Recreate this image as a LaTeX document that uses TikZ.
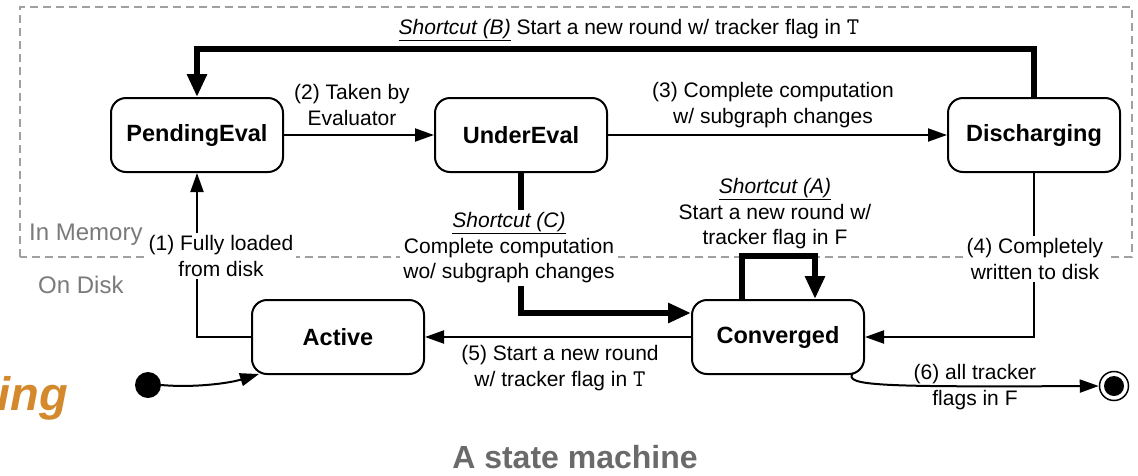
\documentclass[tikz,border=0pt]{standalone}
\usepackage{fontspec}
\setmainfont{Liberation Sans}
\usetikzlibrary{arrows.meta,calc}
\definecolor{dashgray}{HTML}{A0A0A0}
\definecolor{txtgray}{HTML}{7A7A7A}
\definecolor{titlegray}{HTML}{6A6A6A}
\definecolor{ingorange}{HTML}{D3892C}
\newcommand{\flagT}{{\fontsize{24}{25.5}\selectfont\ttfamily T}}
\begin{document}
\begin{tikzpicture}[x=1pt,y=-1pt,
  statebox/.style={draw, line width=2pt, rounded corners=15pt, minimum width=172pt, minimum height=74pt, font=\fontsize{23.5}{28}\selectfont\bfseries, inner sep=0pt},
  lbl/.style={align=center, font=\fontsize{21}{25.5}\selectfont, inner sep=3pt},
  wlbl/.style={lbl, fill=white},
  tarrow/.style={line width=2pt, -{Triangle[length=19pt,width=13pt]}},
  bigarrow/.style={line width=6.5pt, -{Triangle[length=23pt,width=19pt]}},
  graylbl/.style={font=\fontsize{24}{28}\selectfont, text=txtgray, inner sep=0pt}
]
\useasboundingbox (0,0) rectangle (1138,475);

% memory / disk region
\draw[dashgray, line width=1.3pt, dash pattern=on 8pt off 5pt] (20,257) -- (20,7) -- (1132,7) -- (1132,257) -- cycle;
\node[graylbl, anchor=base west] (mem) at (29,240) {In Memory};
\node[graylbl, anchor=base west] (disk) at (38,293) {On Disk};

% states
\node[statebox] (pe) at (197,135) {PendingEval};
\node[statebox] (ue) at (521,135) {UnderEval};
\node[statebox] (dc) at (1034,135) {Discharging};
\node[statebox] (ac) at (338,337) {Active};
\node[statebox] (cv) at (778,337) {Converged};
\node[circle, fill, minimum size=26pt, inner sep=0pt] (init) at (148,385) {};
\node[circle, draw, line width=1.5pt, minimum size=29pt, inner sep=0pt] (fin) at (1114,386) {};
\node[circle, fill, minimum size=20pt, inner sep=0pt] (fininner) at (fin.center) {};

% helper coordinates
\coordinate (btop) at (0,49);
\path (cv.west) ++(0,-24) coordinate (cvin);
\path (cv.north) ++(-36,0) coordinate (aL);
\path (cv.north) ++(37,0) coordinate (aR);
\coordinate (c6s) at (853,373);
\path (ac.south west) ++(8,-1) coordinate (acin);

% transitions
\draw[tarrow] (ac.west) -| (pe.south);
\draw[tarrow] (pe.east) -- (ue.west);
\draw[tarrow] (ue.east) -- (dc.west);
\draw[tarrow] (dc.south) |- (cv.east);
\draw[tarrow] (cv.west) -- (ac.east);
\draw[tarrow] (c6s) .. controls (843,386) and (880,387) .. (fin.west);
\draw[tarrow] (init.east) .. controls (195,388) and (230,383) .. (acin);

% shortcuts
\draw[bigarrow] (dc.north) -- (dc.north |- btop) -| (pe.north);
\draw[bigarrow] (ue.south) |- (cvin);
\draw[bigarrow] (aL) -- ++(0,-43) -| (aR);

% labels
\node[lbl] (lb) at (629,30) {\underline{\textit{Shortcut (B)}} Start a new round w/ tracker flag in \flagT};
\node[lbl] (l2) at (352,105) {(2) Taken by\\Evaluator};
\node[lbl] (l3) at (773,105) {(3) Complete computation\\w/ subgraph changes};
\node[wlbl] (l1) at (221,256) {(1) Fully loaded\\from disk};
\node[wlbl] (lc) at (509,248) {\underline{\textit{Shortcut (C)}}\\Complete computation\\wo/ subgraph changes};
\node[lbl] (la) at (775,214) {\underline{\textit{Shortcut (A)}}\\Start a new round w/\\tracker flag in F};
\node[wlbl] (l4) at (1035,259) {(4) Completely\\written to disk};
\node[lbl] (l5) at (560,368) {(5) Start a new round\\w/ tracker flag in \flagT};
\node[lbl] (l6) at (975,387) {(6) all tracker\\flags in F};

% title and cut-off word
\node[font=\fontsize{32}{36}\selectfont\bfseries, text=titlegray, anchor=base, inner sep=0pt] (title) at (575,468) {A state machine};
\node[font=\fontsize{47}{50}\selectfont\bfseries\itshape, text=ingorange, anchor=base east, inner sep=0pt] (ing) at (68,410) {ing};
\end{tikzpicture}
\end{document}
